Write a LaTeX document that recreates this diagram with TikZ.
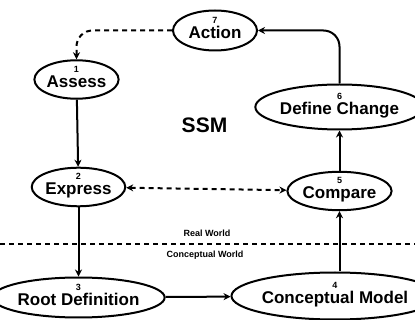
\documentclass[tikz,border=0pt]{standalone}
\usepackage{fontspec}
\setmainfont{Liberation Sans}
\usetikzlibrary{shapes.geometric,arrows.meta}
\tikzset{
  proc/.style={ellipse, draw, line width=2pt, inner sep=0pt, align=center,
    text depth=6pt, font=\bfseries\fontsize{17}{15}\selectfont},
  conn/.style={line width=2pt, -{Stealth[length=7pt,width=7pt]}},
  dconn/.style={conn, dash pattern=on 5pt off 4pt},
  small/.style={font=\bfseries\fontsize{9}{9}\selectfont}
}
\newcommand{\nm}[1]{{\fontsize{9}{9}\selectfont #1}}
\begin{document}
\begin{tikzpicture}[x=1pt,y=-1pt]
\useasboundingbox (0,0) rectangle (415,320);
\node[proc, minimum width=84pt, minimum height=40pt] (action) at (215,30.5) {\nm{7}\\Action};
\node[proc, minimum width=80pt, minimum height=36pt] (assess) at (76.5,79.5) {\nm{1}\\Assess};
\node[proc, minimum width=140pt, minimum height=45pt] (define) at (339.5,107) {\nm{6}\\Define Change};
\node[proc, minimum width=88pt, minimum height=36pt] (express) at (78.5,187) {\nm{2}\\Express};
\node[proc, minimum width=94pt, minimum height=37pt] (compare) at (339.5,191) {\nm{5}\\Compare};
\node[proc, minimum width=134pt, minimum height=40pt] (root) at (78.5,297.5) {\nm{3}\\Root Definition};
\node[proc, minimum width=158pt, minimum height=47pt] (model) at (335,296) {\nm{4}\\Conceptual Model};
\node[font=\bfseries\fontsize{21}{21}\selectfont] (ssm) at (204.5,125) {SSM};
\coordinate (lineL) at (0,244);
\coordinate (lineR) at (415,244);
\draw[line width=1.4pt, dash pattern=on 5pt off 4pt] (lineL) -- (lineR);
\node[small] (real) at (207,233) {Real World};
\node[small] (concw) at (205,255) {Conceptual World};
\draw[conn] (assess) -- (express);
\draw[conn] (express) -- (root);
\draw[conn] (root) -- (model);
\draw[conn] (model.north -| compare) -- (compare);
\draw[conn] (compare) -- (define);
\draw[conn, rounded corners=16pt] (define.north) |- (action.east);
\draw[dconn, rounded corners=16pt] (action.west) -| (assess.north);
\draw[dconn, {Stealth[length=7pt,width=7pt]}-{Stealth[length=7pt,width=7pt]}] (express) -- (compare);
\end{tikzpicture}
\end{document}
